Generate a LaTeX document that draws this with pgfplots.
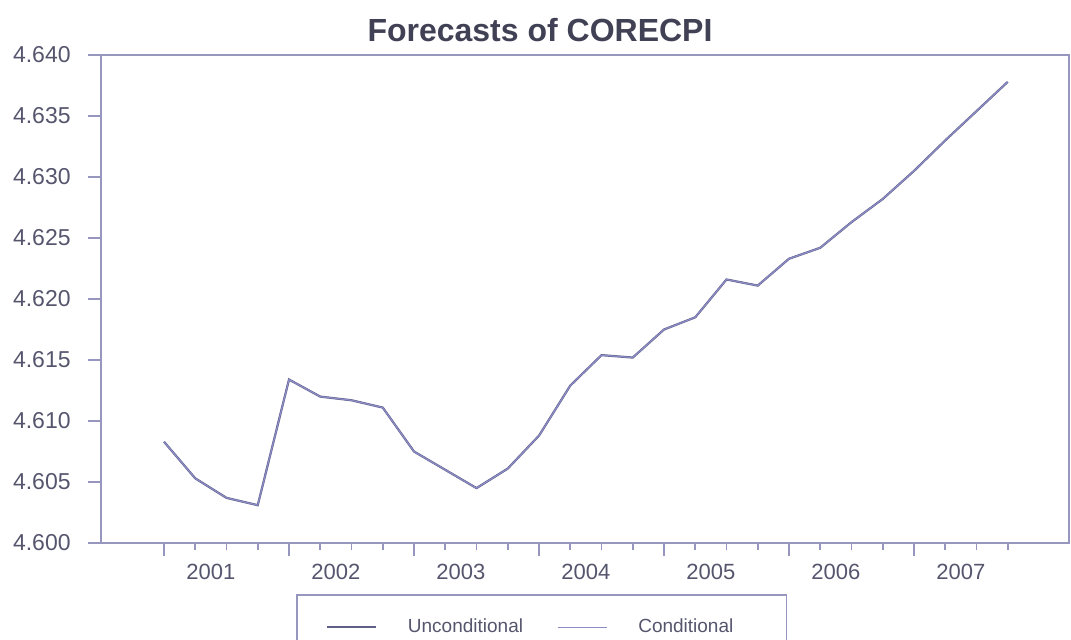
\documentclass[border=0pt]{standalone}
\usepackage{pgfplots}
\pgfplotsset{compat=1.18}
\usepackage{fontspec}
\setmainfont{Liberation Sans}
\definecolor{axcol}{RGB}{150,150,190}
\definecolor{txtcol}{RGB}{85,85,110}
\definecolor{titcol}{RGB}{65,65,85}
\definecolor{uncol}{RGB}{95,95,135}
\definecolor{concol}{RGB}{140,140,200}
\pgfplotstableread{
x y
0 4.6083
1 4.6053
2 4.6037
3 4.6031
4 4.6134
5 4.6120
6 4.6117
7 4.6111
8 4.6075
9 4.6060
10 4.6045
11 4.6061
12 4.6088
13 4.6129
14 4.6154
15 4.6152
16 4.6175
17 4.6185
18 4.6216
19 4.6211
20 4.6233
21 4.6242
22 4.6263
23 4.6282
24 4.6305
25 4.6330
26 4.6354
27 4.6378
}\datatab
\begin{document}
\begin{tikzpicture}
\useasboundingbox (0,0) rectangle (535.5pt,319.5pt);
\begin{axis}[
  at={(50.5pt,48pt)}, anchor=south west,
  scale only axis, width=484pt, height=244pt,
  xmin=-2.016, xmax=28.96, ymin=4.600, ymax=4.640,
  axis line style={axcol, line width=0.8pt},
  tick style={axcol, line width=0.8pt},
  tick align=outside,
  xtick={0,4,...,24}, xticklabels={},
  minor xtick={1,2,3,5,6,7,9,10,11,13,14,15,17,18,19,21,22,23,25,26,27},
  major tick length=6.5pt, minor tick length=3.5pt,
  extra x ticks={1.5,5.5,9.5,13.5,17.5,21.5,25.5},
  extra x tick labels={2001,2002,2003,2004,2005,2006,2007},
  extra x tick style={major tick length=0pt, tick label style={font=\fontsize{11}{13}\selectfont, text=txtcol, anchor=center, yshift=-14.25pt}},
  ytick={4.600,4.605,...,4.6401},
  /pgf/number format/fixed, /pgf/number format/fixed zerofill, /pgf/number format/precision=3, /pgf/number format/assume math mode=true,
  yticklabel style={font=\fontsize{11.5}{13}\selectfont, text=txtcol, anchor=east, inner sep=0pt, xshift=-8.5pt},
  xtick pos=bottom, ytick pos=left,
  title={Forecasts of CORECPI},
  title style={at={(0.4535,1.0256)}, anchor=center, font=\fontsize{16}{18}\selectfont\bfseries, text=titcol},
  legend columns=2,
  legend style={at={(0.2014,-0.1045)}, anchor=north west, draw=axcol, line width=0.8pt,
    font=\fontsize{9.5}{11}\selectfont, text=txtcol, inner xsep=14.5pt, inner ysep=10pt,
    /tikz/every even column/.append style={column sep=15pt}},
  legend image code/.code={\draw[#1] (0pt,0pt) -- (24.5pt,0pt);},
]
\addplot[uncol, line width=1.1pt] table[x=x,y=y]{\datatab};
\addlegendentry{\hspace*{13.5pt}Unconditional}
\addplot[concol, line width=0.6pt] table[x=x,y=y]{\datatab};
\addlegendentry{\hspace*{13.5pt}Conditional\hspace*{10pt}\mbox{}}
\end{axis}
\end{tikzpicture}
\end{document}
